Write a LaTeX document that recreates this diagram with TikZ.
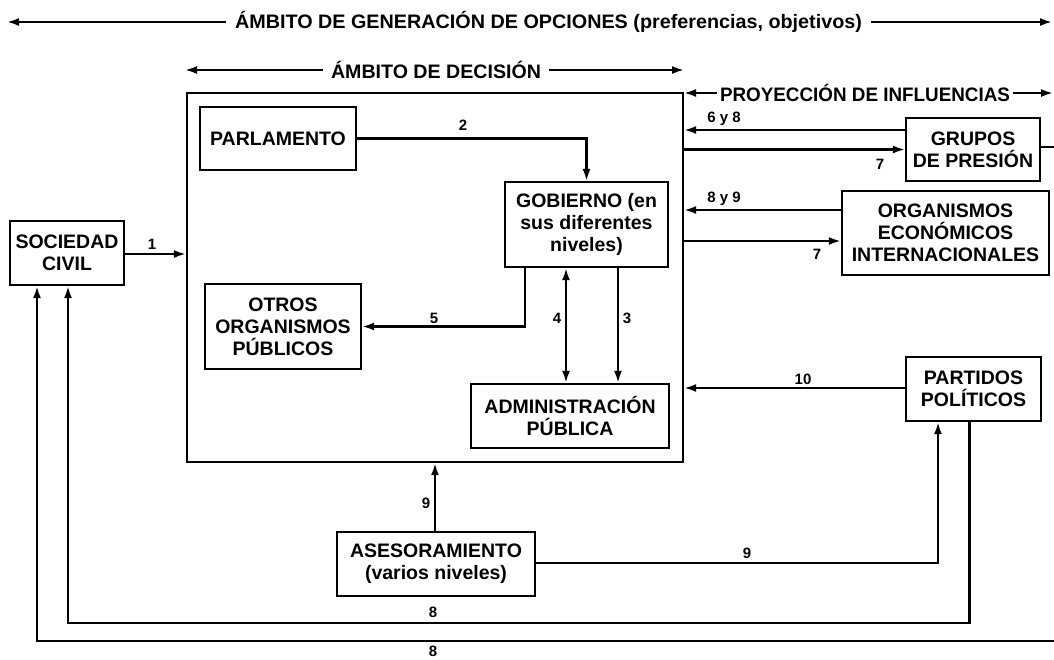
\documentclass[tikz,border=0pt]{standalone}
\usepackage{fontspec}
\setmainfont{Liberation Sans}
\newfontfamily\labfont{Liberation Sans Bold}
\newfontfamily\boxfont{Liberation Sans Bold}
\usetikzlibrary{arrows.meta,calc}
\newcommand\fitw[2]{\setbox0=\hbox{#2}\pgfmathsetmacro\fitfac{#1/\the\wd0}\scalebox{\fitfac}[1]{\box0}}
\begin{document}
\begin{tikzpicture}[x=1pt,y=-1pt,
 box/.style={draw, line width=2.3pt, align=center, inner sep=0pt, font=\boxfont\fontsize{19.5}{22}\selectfont},
 conn/.style={line width=2.1pt},
 arr/.style={conn,-{Latex[length=12pt,width=8pt]}},
 darr/.style={conn,{Latex[length=12pt,width=8pt]}-{Latex[length=12pt,width=8pt]}},
 lab/.style={font=\labfont\fontsize{15}{16}\selectfont, inner sep=0.5pt},
 title/.style={font=\boxfont\fontsize{19.5}{22}\selectfont, inner ysep=0pt}]

\useasboundingbox[fill=white] (0,0) rectangle (1054,659);

% titles
\node[title, inner xsep=9pt] (t1) at (548.5,22) {\fitw{627}{ÁMBITO DE GENERACIÓN DE OPCIONES (preferencias, objetivos)}};
\coordinate (t1l) at (7,22); \coordinate (t1r) at (1052,22);
\draw[arr] (t1.west) -- (t1l);
\draw[arr] (t1.east) -- (t1r);

\node[title, inner xsep=8pt] (t2) at (436,70) {\fitw{210}{ÁMBITO DE DECISIÓN}};
\coordinate (t2l) at (185,70); \coordinate (t2r) at (684,70);
\draw[arr] (t2.west) -- (t2l);
\draw[arr] (t2.east) -- (t2r);

\node[title, inner xsep=3pt] (t3) at (865,93) {\fitw{290}{PROYECCIÓN DE INFLUENCIAS}};
\coordinate (t3l) at (684,93); \coordinate (t3r) at (1053,93);
\draw[arr] (t3.west) -- (t3l);
\draw[arr] (t3.east) -- (t3r);

% boxes
\node[box, minimum width=496pt, minimum height=369pt] (dec) at (435,277.5) {};
\node[box, minimum width=156pt, minimum height=63pt] (parl) at (278,138.5) {PARLAMENTO};
\node[box, minimum width=163pt, minimum height=85pt] (gob) at (586.5,224.5) {GOBIERNO (en\\sus diferentes\\niveles)};
\node[box, minimum width=156pt, minimum height=85pt] (otros) at (283,326.5) {OTROS\\ORGANISMOS\\PÚBLICOS};
\node[box, minimum width=198pt, minimum height=64pt] (adm) at (570,416) {ADMINISTRACIÓN\\PÚBLICA};
\node[box, minimum width=114pt, minimum height=64pt] (soc) at (67,253) {SOCIEDAD\\CIVIL};
\node[box, minimum width=134pt, minimum height=63pt] (grp) at (973,149.5) {GRUPOS\\DE PRESIÓN};
\node[box, minimum width=207pt, minimum height=84pt] (org) at (945.5,233) {ORGANISMOS\\ECONÓMICOS\\INTERNACIONALES};
\node[box, minimum width=135pt, minimum height=64pt] (par) at (973.5,389) {PARTIDOS\\POLÍTICOS};
\node[box, minimum width=198pt, minimum height=64pt] (ase) at (436,564) {ASESORAMIENTO\\(varios niveles)};

% inner connectors
\draw[arr] (parl.east) -| (gob.north);
\draw[arr] ([xshift=-61.5pt]gob.south) |- (otros.east);
\draw[darr] ([xshift=-20.5pt]gob.south) -- ([xshift=-20.5pt]gob.south |- adm.north);
\draw[arr] ([xshift=31.5pt]gob.south) -- ([xshift=31.5pt]gob.south |- adm.north);

% left
\coordinate (s1) at ([yshift=-1pt]soc.east);
\draw[arr] (s1) -- (s1 -| dec.west);

% right side
\coordinate (g1) at ([yshift=19.5pt]grp.west);
\draw[arr] (g1) -- (g1 -| dec.east);
\coordinate (g2) at (grp.west);
\draw[arr] (g2 -| dec.east) -- (g2);
\coordinate (rightedge) at (1054,0);
\draw[conn] ([yshift=2.5pt]grp.east) -- ([yshift=2.5pt]grp.east -| rightedge);

\coordinate (o1) at ([yshift=23pt]org.west);
\draw[arr] (o1) -- (o1 -| dec.east);
\coordinate (o2) at ([yshift=-8pt]org.west);
\draw[arr] (o2 -| dec.east) -- (o2);

\coordinate (p1) at ([yshift=1pt]par.west);
\draw[arr] (p1) -- (p1 -| dec.east);

% bottom
\draw[arr] ([xshift=-1pt]ase.north) -- ([xshift=-1pt]ase.north |- dec.south);
\coordinate (a9) at ([xshift=-35.5pt]par.south);
\coordinate (y9) at (0,563);
\draw[arr] (ase.east |- y9) -| (a9);

\coordinate (yin) at (0,623);
\coordinate (pd) at ([xshift=-4pt]par.south);
\coordinate (si) at ([xshift=1pt]soc.south);
\draw[arr] (pd) -- (pd |- yin) -- (si |- yin) -- (si);

\coordinate (so) at ([xshift=-30pt]soc.south);
\coordinate (yout) at (0,641);
\draw[arr] (rightedge |- yout) -- (so |- yout) -- (so);

% labels
\node[lab] (l1) at (152,244) {1};
\node[lab] (l2) at (463,125) {2};
\node[lab] (l3) at (627,318) {3};
\node[lab] (l4) at (557,318) {4};
\node[lab] (l5) at (434,318) {5};
\node[lab] (l68) at (724,119) {6 y 8};
\node[lab] (l7a) at (880,164) {7};
\node[lab] (l89) at (724,199) {8 y 9};
\node[lab] (l7b) at (817,254) {7};
\node[lab] (l10) at (803,379) {10};
\node[lab] (l9a) at (426,503) {9};
\node[lab] (l9b) at (747,553) {9};
\node[lab] (l8a) at (433,612) {8};
\node[lab] (l8b) at (433,651) {8};
\end{tikzpicture}
\end{document}
